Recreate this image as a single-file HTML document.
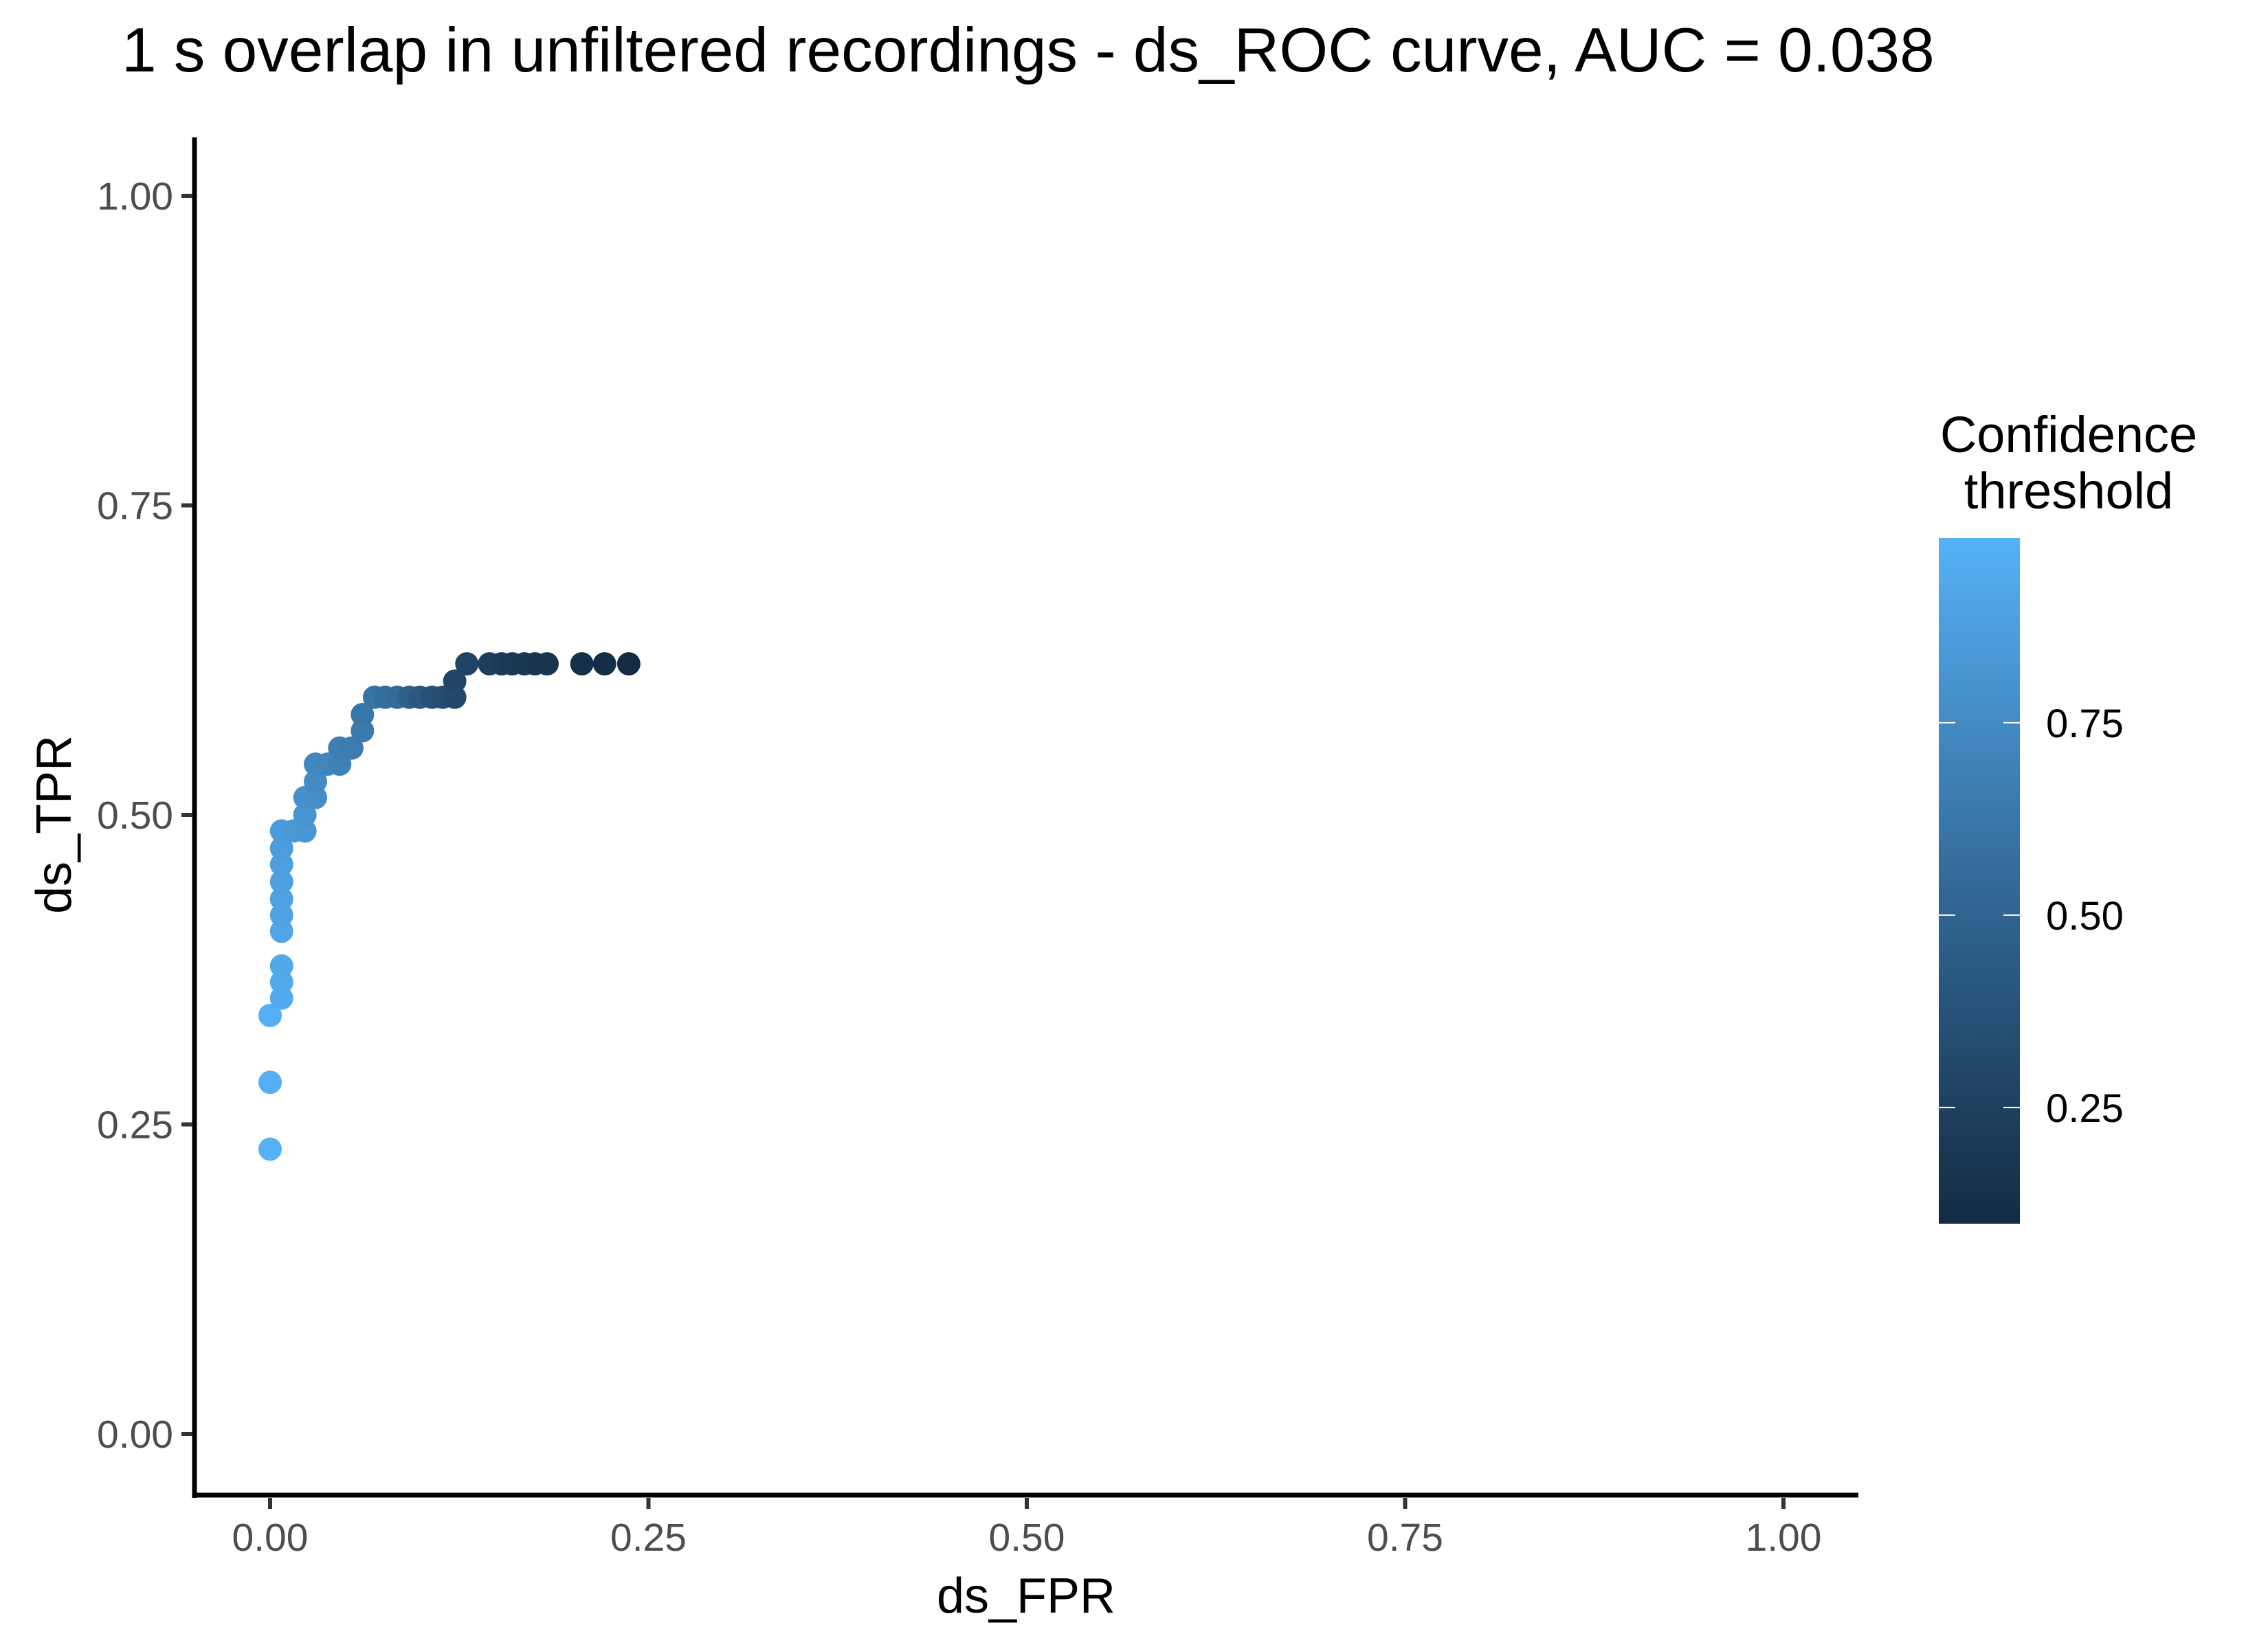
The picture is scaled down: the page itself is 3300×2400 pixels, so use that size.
<!DOCTYPE html>
<html><head><meta charset="utf-8"><style>
html,body{margin:0;padding:0;background:#fff;}
svg{display:block;font-family:"Liberation Sans",sans-serif;}
</style></head><body>
<svg id="chart" width="3300" height="2400" viewBox="0 0 3300 2400">
<defs><linearGradient id="cg" x1="0" y1="1" x2="0" y2="0">
<stop offset="0" stop-color="#132B43"/><stop offset="0.5" stop-color="#336A98"/><stop offset="1" stop-color="#56B1F7"/>
</linearGradient></defs>
<text x="177" y="104" font-size="91" fill="#000">1 s overlap in unfiltered recordings - ds_ROC curve, AUC = 0.038</text>
<g id="axes"></g>
<g id="points"></g>
<text x="1493" y="2347" font-size="72" text-anchor="middle">ds_FPR</text>
<text transform="translate(103,1200) rotate(-90)" font-size="72" text-anchor="middle">ds_TPR</text>
<g>
<text x="3010" y="658" font-size="74" text-anchor="middle">Confidence</text>
<text x="3010" y="740" font-size="74" text-anchor="middle">threshold</text>
<rect x="2821" y="783" width="118" height="998" fill="url(#cg)"/>
<g id="legend-ticks"></g>
</g>
</svg>
<script>
const fpr=[0,0,0,0.0076,0.0076,0.0076,0.0076,0.0076,0.0076,0.0076,0.0076,0.0076,0.0076,0.0154,0.023,0.023,0.023,0.030,0.030,0.030,0.038,0.046,0.046,0.054,0.061,0.061,0.069,0.076,0.084,0.092,0.099,0.107,0.114,0.122,0.122,0.130,0.145,0.153,0.160,0.168,0.175,0.183,0.206,0.221,0.237];
const tpr=[0.230,0.284,0.338,0.352,0.365,0.378,0.406,0.419,0.432,0.446,0.460,0.473,0.487,0.487,0.487,0.500,0.514,0.514,0.527,0.541,0.541,0.541,0.554,0.554,0.568,0.581,0.595,0.595,0.595,0.595,0.595,0.595,0.595,0.595,0.608,0.622,0.622,0.622,0.622,0.622,0.622,0.622,0.622,0.622,0.622];
const thr=[0.99,0.98,0.97,0.95,0.94,0.93,0.91,0.90,0.89,0.88,0.87,0.86,0.85,0.83,0.82,0.80,0.78,0.76,0.74,0.72,0.70,0.68,0.66,0.64,0.62,0.60,0.58,0.55,0.52,0.45,0.40,0.35,0.32,0.30,0.27,0.25,0.23,0.21,0.19,0.18,0.17,0.16,0.13,0.12,0.10];
const ticks=[0,0.25,0.5,0.75,1];
const tickLabels=["0.00","0.25","0.50","0.75","1.00"];
const legTicks=[0.25,0.5,0.75];
const legLabels=["0.25","0.50","0.75"];
const NS="http://www.w3.org/2000/svg";
const X=v=>393+v*2202, Y=v=>2087-v*1802;
const cmin=0.099,cmax=0.99;
const L=v=>1781-(v-cmin)/(cmax-cmin)*998;
function col(v){const t=Math.max(0,Math.min(1,(v-cmin)/(cmax-cmin)));const a=[0x13,0x2B,0x43],b=[0x56,0xB1,0xF7];return "rgb("+a.map((c,i)=>Math.round(c+(b[i]-c)*t)).join(",")+")";}
function mk(tag,attrs,parent){const e=document.createElementNS(NS,tag);for(const k in attrs)e.setAttribute(k,attrs[k]);parent.appendChild(e);return e;}
const ax=document.getElementById('axes');
let l=mk('line',{x1:283,y1:200,x2:283,y2:2180,stroke:'#000','stroke-width':7},ax);


l=mk('line',{x1:280,y1:2176,x2:2704,y2:2176,stroke:'#000','stroke-width':7},ax);


ticks.forEach((v,i)=>{
 let t=mk('line',{x1:264,y1:Y(v),x2:280,y2:Y(v),stroke:'#333','stroke-width':6},ax);
 
 
 let tx=mk('text',{x:252,y:Y(v)+20,'font-size':57,fill:'#4D4D4D','text-anchor':'end'},ax);tx.textContent=tickLabels[i];
 
 
 t=mk('line',{x1:X(v),y1:2180,x2:X(v),y2:2196,stroke:'#333','stroke-width':6},ax);
 
 
 tx=mk('text',{x:X(v),y:2257,'font-size':57,fill:'#4D4D4D','text-anchor':'middle'},ax);tx.textContent=tickLabels[i];
 
 
});
const pg=document.getElementById('points');
const order=fpr.map((_,i)=>i).sort((a,b)=>thr[b]-thr[a]);
order.forEach(i=>{
 const c=mk('circle',{cx:X(fpr[i]),cy:Y(tpr[i]),r:17,fill:col(thr[i])},pg);
 
 
});
const lg=document.getElementById('legend-ticks');
legTicks.forEach((v,i)=>{
 let t=mk('line',{x1:2821,y1:L(v),x2:2845,y2:L(v),stroke:'#fff','stroke-width':2},lg);
 
 
 t=mk('line',{x1:2915,y1:L(v),x2:2939,y2:L(v),stroke:'#fff','stroke-width':2},lg);
 
 
 const tx=mk('text',{x:2977,y:L(v)+21,'font-size':58,fill:'#000'},lg);tx.textContent=legLabels[i];
 
 
});
</script>
</body></html>
